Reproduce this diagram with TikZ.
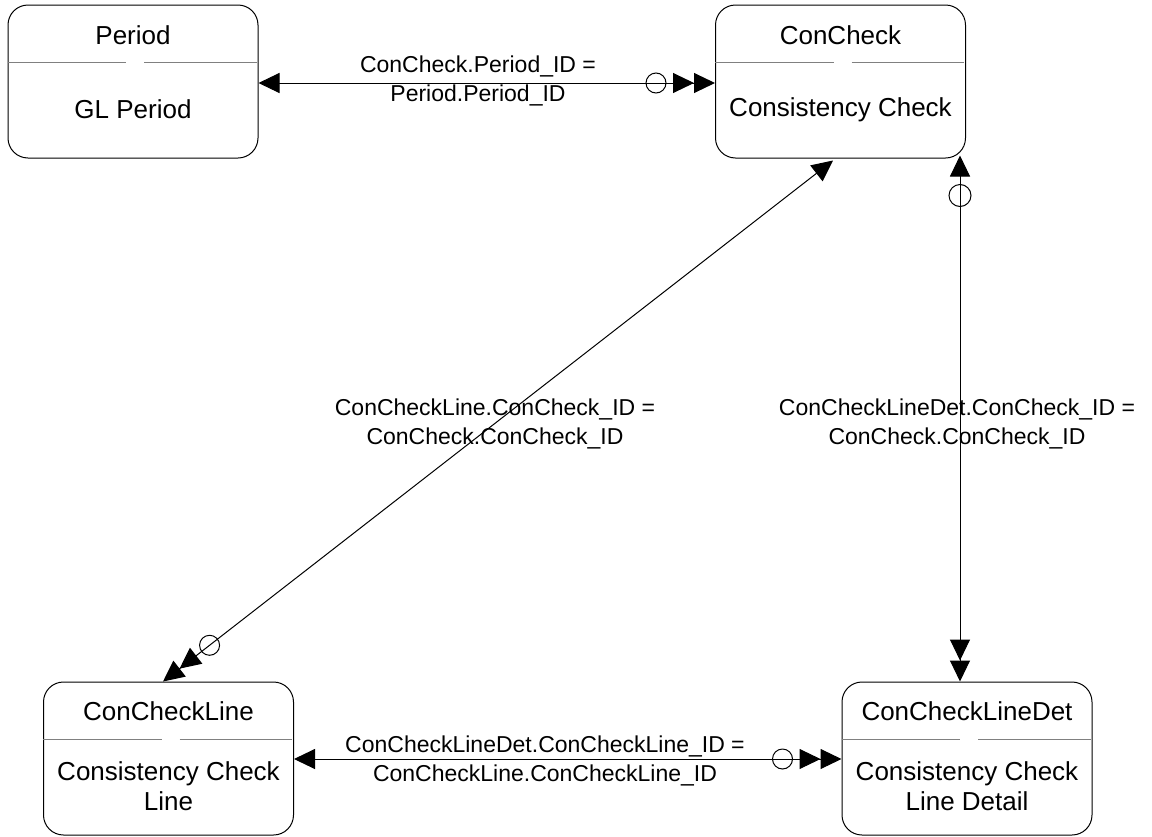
\documentclass[tikz,border=0pt]{standalone}
\usepackage{fontspec}
\setmainfont{Liberation Sans}
\usetikzlibrary{arrows.meta,calc}
\begin{document}
\begin{tikzpicture}[x=1pt,y=-1pt,
  >={Triangle[length=21pt,width=20pt]},
  box/.style={draw, line width=1pt, rounded corners=20pt, minimum width=250pt, minimum height=153pt, inner sep=0pt},
  hdr/.style={font=\fontsize{26}{30}\selectfont, inner sep=0pt},
  body/.style={font=\fontsize{26}{30}\selectfont, align=center, inner sep=0pt},
  lbl/.style={font=\fontsize{23}{29}\selectfont, align=center, inner sep=0pt},
  divl/.style={draw=gray, line width=1pt},
  conn/.style={line width=1pt},
  opt/.style={line width=1pt}
]
\useasboundingbox (0,0) rectangle (1152,836);

% entity boxes
\node[box] (p)  at (133,81.5) {};
\node[box] (cc) at (840.5,81.5) {};
\node[box] (cl) at (168.5,758.5) {};
\node[box] (cd) at (967,758.5) {};

% headers
\node[hdr] (ph)  at ($(p.north)+(0,31)$) {Period};
\node[hdr] (cch) at ($(cc.north)+(0,31)$) {ConCheck};
\node[hdr] (clh) at ($(cl.north)+(0,30)$) {ConCheckLine};
\node[hdr] (cdh) at ($(cd.north)+(0,30)$) {ConCheckLineDet};

% bodies
\node[body] (pb)  at ($(p.north)+(0,105)$) {GL Period};
\node[body] (ccb) at ($(cc.north)+(0,105)$) {Consistency Check};
\node[body] (clb) at ($(cl.north)+(0,105)$) {Consistency Check\\Line};
\node[body] (cdb) at ($(cd.north)+(0,105)$) {Consistency Check\\Line Detail};

% dividers with a gap
\foreach \b in {p,cc,cl,cd}{
  \draw[divl] ($(\b.north west)+(0,58)$) -- ($(\b.north)+(-7,58)$);
  \draw[divl] ($(\b.north)+(11,58)$) -- ($(\b.north east)+(-2,58)$);
}

% connector end points
\coordinate (pe)  at ($(p.east)+(0,1.5)$);
\coordinate (ccw) at ($(cc.west)+(0,1.5)$);
\coordinate (d1)  at ($(cc.south)+(-7.5,2)$);
\coordinate (d2)  at ($(cl.north)+(-5.5,0)$);
\coordinate (v2)  at ($(cd.north)+(-7,0)$);
\coordinate (v1)  at ($(v2 |- cc.south)+(0,-3)$);
\coordinate (cle) at ($(cl.east)+(0,0.5)$);
\coordinate (cdw) at ($(cd.west)+(0,0.5)$);

% connectors
\draw[conn,<->>] (pe) -- (ccw);
\draw[opt] ($(ccw)!59pt!(pe)$) circle[radius=10pt];
\node[lbl] (l1) at (478,81) {ConCheck.Period\_ID =\\Period.Period\_ID};

\draw[conn,<->>] (d1) -- (d2);
\draw[opt] ($(d2)!59pt!(d1)$) circle[radius=10pt];
\node[lbl] (l2) at (495,423.5) {ConCheckLine.ConCheck\_ID =\\ConCheck.ConCheck\_ID};

\draw[conn,<->>] (v1) -- (v2);
\draw[opt] ($(v1)!40pt!(v2)$) circle[radius=11pt];
\node[lbl] (l3) at (957,423.5) {ConCheckLineDet.ConCheck\_ID =\\ConCheck.ConCheck\_ID};

\draw[conn,<->>] (cle) -- (cdw);
\draw[opt] ($(cdw)!59pt!(cle)$) circle[radius=10pt];
\node[lbl] (l4) at (545,761) {ConCheckLineDet.ConCheckLine\_ID =\\ConCheckLine.ConCheckLine\_ID};
\end{tikzpicture}
\end{document}
